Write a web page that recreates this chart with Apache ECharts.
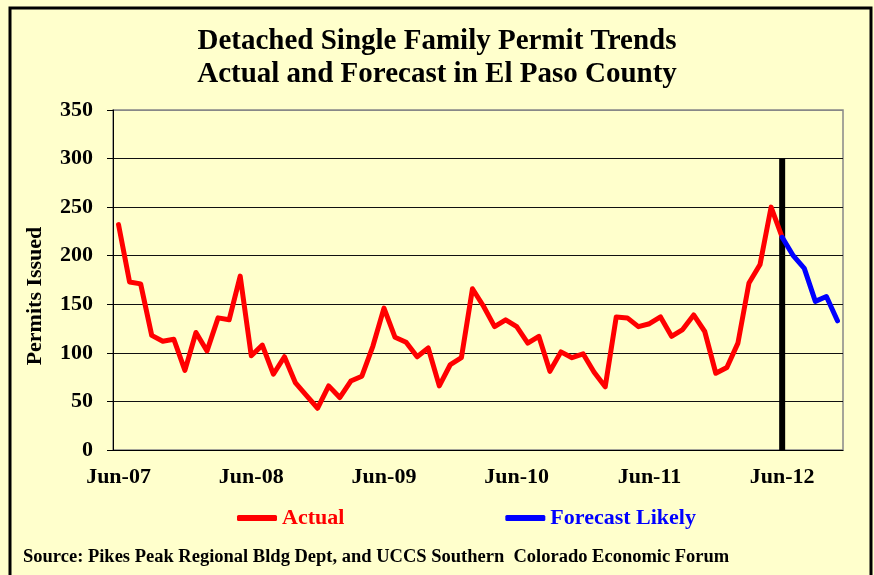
<!DOCTYPE html>
<html>
<head>
<meta charset="utf-8">
<title>Detached Single Family Permit Trends</title>
<script src="https://cdn.jsdelivr.net/npm/echarts/dist/echarts.min.js"></script>
<style>
  html, body { margin: 0; padding: 0; background: #FFFFCC; }
  #chart { width: 874px; height: 575px; }
</style>
</head>
<body>
<div id="chart"></div>
<script>
// month categories, Jun-07 .. Nov-12
const months = [
  'Jun-07', 'Jul-07', 'Aug-07', 'Sep-07', 'Oct-07', 'Nov-07', 'Dec-07',
  'Jan-08', 'Feb-08', 'Mar-08', 'Apr-08', 'May-08', 'Jun-08', 'Jul-08', 'Aug-08', 'Sep-08', 'Oct-08', 'Nov-08', 'Dec-08',
  'Jan-09', 'Feb-09', 'Mar-09', 'Apr-09', 'May-09', 'Jun-09', 'Jul-09', 'Aug-09', 'Sep-09', 'Oct-09', 'Nov-09', 'Dec-09',
  'Jan-10', 'Feb-10', 'Mar-10', 'Apr-10', 'May-10', 'Jun-10', 'Jul-10', 'Aug-10', 'Sep-10', 'Oct-10', 'Nov-10', 'Dec-10',
  'Jan-11', 'Feb-11', 'Mar-11', 'Apr-11', 'May-11', 'Jun-11', 'Jul-11', 'Aug-11', 'Sep-11', 'Oct-11', 'Nov-11', 'Dec-11',
  'Jan-12', 'Feb-12', 'Mar-12', 'Apr-12', 'May-12', 'Jun-12', 'Jul-12', 'Aug-12', 'Sep-12', 'Oct-12', 'Nov-12'
];

// actual permits, Jun-07 .. Jun-12
const actual = [
  232, 173, 171, 118, 112, 114, 82,
  121, 102, 136, 134, 179, 97, 108, 78, 96, 69, 56, 43,
  66, 54, 71, 76, 107, 146, 116, 111, 96, 105, 66, 88,
  95, 166, 148, 127, 134, 127, 110, 117, 81, 101, 95, 99,
  80, 65, 137, 136, 127, 130, 137, 117, 124, 139, 122, 79,
  85, 110, 172, 191, 250, 219
];

// forecast, Jun-12 .. Nov-12
const forecastStart = 'Jun-12';
const forecast = [219, 200, 187, 153, 158, 133];

// black divider bar
const dividerMonth = 'Jun-12';
const dividerValue = 300;

const yTicks = [0, 50, 100, 150, 200, 250, 300, 350];

const font = 'Liberation Serif, Times New Roman, serif';

const startIdx = months.indexOf(forecastStart);
const forecastData = months.map(function (m, i) {
  return i < startIdx ? null : forecast[i - startIdx];
});
const dividerData = months.map(function (m) {
  return m === dividerMonth ? dividerValue : null;
});

const chart = echarts.init(document.getElementById('chart'));

chart.setOption({
  backgroundColor: '#FFFFCC',
  animation: false,
  title: {
    text: 'Detached Single Family Permit Trends\nActual and Forecast in El Paso County',
    left: 432,
    top: 20,
    textAlign: 'center',
    textStyle: {
      fontFamily: font,
      fontWeight: 'bold',
      fontSize: 29,
      lineHeight: 33,
      color: '#000'
    }
  },
  legend: {
    data: [
      { name: 'Actual', textStyle: { color: '#FF0000' } },
      { name: 'Forecast Likely', textStyle: { color: '#0000FF' } }
    ],
    left: 237,
    top: 507,
    padding: 0,
    itemWidth: 40,
    itemHeight: 6,
    itemGap: 161,
    icon: 'roundRect',
    selectedMode: false,
    textStyle: { fontFamily: font, fontWeight: 'bold', fontSize: 22 }
  },
  grid: {
    left: 113,
    right: 31,
    top: 110,
    bottom: 125,
    show: true,
    borderColor: '#888',
    borderWidth: 1.5
  },
  xAxis: [
    {
      type: 'category',
      data: months,
      boundaryGap: true,
      position: 'bottom',
      axisLine: { lineStyle: { color: '#000', width: 1 } },
      // major ticks every 12 months, outside
      axisTick: { interval: 11, length: 7, lineStyle: { color: '#000' } },
      axisLabel: {
        interval: 11,
        margin: 16,
        color: '#000',
        fontFamily: font,
        fontWeight: 'bold',
        fontSize: 22
      },
      splitLine: { show: false }
    },
    {
      // minor ticks every 6 months, inside
      type: 'category',
      data: months,
      boundaryGap: true,
      position: 'bottom',
      axisLine: { show: false },
      axisTick: { interval: 5, inside: true, length: 4, lineStyle: { color: '#000' } },
      axisLabel: { show: false },
      splitLine: { show: false }
    }
  ],
  yAxis: {
    type: 'value',
    min: yTicks[0],
    max: yTicks[yTicks.length - 1],
    interval: 50,
    axisLine: { show: true, lineStyle: { color: '#000', width: 1 } },
    axisTick: { show: true, length: 6, lineStyle: { color: '#000' } },
    axisLabel: {
      margin: 20,
      color: '#000',
      fontFamily: font,
      fontWeight: 'bold',
      fontSize: 22
    },
    splitLine: {
      lineStyle: {
        color: ['#111', '#111', '#111', '#111', '#111', '#111', '#111', '#888'],
        width: 1
      }
    }
  },
  graphic: [
    {
      // outer frame
      type: 'rect',
      shape: { x: 10, y: 8, width: 861, height: 620 },
      style: { fill: null, stroke: '#000', lineWidth: 3 },
      silent: true
    },
    {
      type: 'text',
      x: 35,
      y: 296,
      rotation: Math.PI / 2,
      style: {
        text: 'Permits Issued',
        fontFamily: font,
        fontWeight: 'bold',
        fontSize: 22,
        fill: '#000',
        textAlign: 'center',
        textVerticalAlign: 'middle'
      }
    },
    {
      type: 'text',
      x: 23,
      y: 557,
      style: {
        text: 'Source: Pikes Peak Regional Bldg Dept, and UCCS Southern  Colorado Economic Forum',
        fontFamily: font,
        fontWeight: 'bold',
        fontSize: 18.5,
        fill: '#000',
        textAlign: 'left',
        textVerticalAlign: 'middle'
      }
    }
  ],
  series: [
    {
      name: 'Divider',
      type: 'bar',
      data: dividerData,
      barWidth: 6,
      itemStyle: { color: '#000' },
      z: 1
    },
    {
      name: 'Actual',
      type: 'line',
      data: actual,
      showSymbol: false,
      symbol: 'none',
      color: '#FF0000',
      lineStyle: { color: '#FF0000', width: 5, cap: 'round', join: 'round' },
      z: 3
    },
    {
      name: 'Forecast Likely',
      type: 'line',
      data: forecastData,
      showSymbol: false,
      symbol: 'none',
      color: '#0000FF',
      lineStyle: { color: '#0000FF', width: 5, cap: 'round', join: 'round' },
      z: 4
    }
  ]
});
</script>
</body>
</html>
